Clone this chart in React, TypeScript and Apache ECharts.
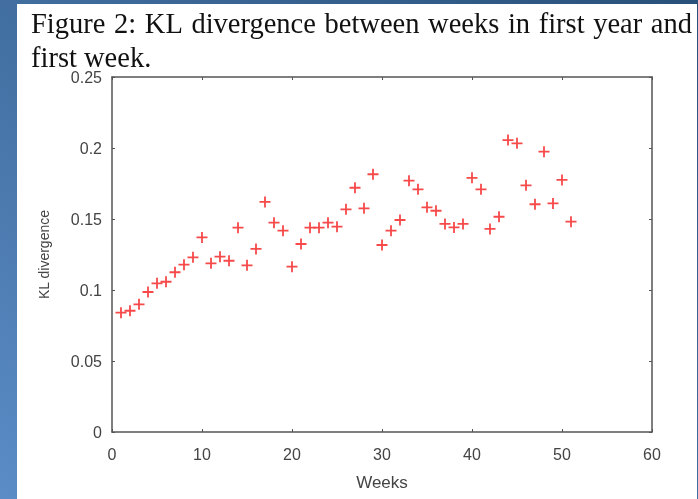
import React, { useEffect, useRef } from "react";
import * as echarts from "echarts";

const weeks = [1,2,3,4,5,6,7,8,9,10,11,12,13,14,15,16,17,18,19,20,21,22,23,24,25,26,27,28,29,30,31,32,33,34,35,36,37,38,39,40,41,42,43,44,45,46,47,48,49,50,51];
const klValues = [0.084,0.0854,0.0899,0.0986,0.1047,0.1058,0.1125,0.1178,0.123,0.137,0.1188,0.1235,0.1206,0.1439,0.1174,0.1289,0.162,0.1474,0.1418,0.1164,0.1324,0.1439,0.1439,0.1474,0.1446,0.1568,0.172,0.1575,0.1815,0.1317,0.1418,0.1493,0.177,0.1709,0.1582,0.1558,0.1465,0.1441,0.1465,0.179,0.1709,0.143,0.1516,0.2056,0.2033,0.1737,0.1604,0.1974,0.161,0.1775,0.1481];
const xTicks = [0, 10, 20, 30, 40, 50, 60];
const yTicks = [0, 0.05, 0.1, 0.15, 0.2, 0.25];
const titleLines = ["Figure 2: KL divergence between weeks in first year and", "first week."];
const xName = "Weeks";
const yName = "KL divergence";

const PLUS = "path://M4.6,0H6.4V4.6H11V6.4H6.4V11H4.6V6.4H0V4.6H4.6Z";
const TITLE_FONT = '28.5px "Liberation Serif"';

function justifiedWords(line: string, left: number, right: number, y: number) {
  const words = line.split(" ");
  const ctx = document.createElement("canvas").getContext("2d");
  let widths = words.map((w) => w.length * 12);
  if (ctx) {
    ctx.font = TITLE_FONT;
    widths = words.map((w) => ctx.measureText(w).width);
  }
  const total = widths.reduce((a, b) => a + b, 0);
  const gap = words.length > 1 ? (right - left - total) / (words.length - 1) : 0;
  let x = left;
  return words.map((w, i) => {
    const el = { type: "text", x, y, silent: true, style: { text: w, font: TITLE_FONT, fill: "#111" } };
    x += widths[i] + gap;
    return el;
  });
}

export default function App() {
  const ref = useRef<HTMLDivElement>(null);
  useEffect(() => {
    if (!ref.current) return;
    const chart = echarts.init(ref.current, null, { renderer: "svg" });
    const axisColor = "#555";
    const labelStyle = { color: "#444", fontSize: 16, fontFamily: "Liberation Sans" };
    const boxAxis = {
      axisLine: { show: true, onZero: false, lineStyle: { color: axisColor, width: 1.5 } },
      axisTick: { show: true, inside: true, length: 3, lineStyle: { color: axisColor } },
      splitLine: { show: false },
    };
    chart.setOption({
      animation: false,
      backgroundColor: "transparent",
      graphic: [
        {
          type: "rect",
          z: -10,
          silent: true,
          shape: { x: 0, y: 0, width: 698, height: 499 },
          style: {
            fill: new echarts.graphic.LinearGradient(0, 1, 1, 0, [
              { offset: 0, color: "#5b8cc6" },
              { offset: 1, color: "#28507a" },
            ]),
          },
        },
        {
          type: "rect",
          z: -9,
          silent: true,
          shape: { x: 17, y: 4, width: 680, height: 495 },
          style: { fill: "#ffffff" },
        },
        ...justifiedWords(titleLines[0], 31, 692, 9),
        {
          type: "text",
          x: 31,
          y: 46,
          silent: true,
          style: { text: titleLines[1], font: TITLE_FONT, lineHeight: 22, fill: "#111" },
        },
      ],
      grid: { left: 112, top: 77, width: 540, height: 355, show: false },
      xAxis: [
        {
          type: "value",
          min: 0,
          max: 60,
          interval: 10,
          position: "bottom",
          name: xName,
          nameLocation: "middle",
          nameGap: 42,
          nameTextStyle: { color: "#444", fontSize: 17, fontFamily: "Liberation Sans" },
          ...boxAxis,
          axisLabel: { ...labelStyle, margin: 14, formatter: (v: number) => (xTicks.includes(v) ? String(v) : "") },
        },
        {
          type: "value",
          min: 0,
          max: 60,
          interval: 10,
          position: "top",
          ...boxAxis,
          axisLabel: { show: false },
        },
      ],
      yAxis: [
        {
          type: "value",
          min: 0,
          max: 0.25,
          interval: 0.05,
          position: "left",
          name: yName,
          nameLocation: "middle",
          nameRotate: 90,
          nameGap: 61,
          nameTextStyle: { color: "#444", fontSize: 14, fontFamily: "Liberation Sans" },
          ...boxAxis,
          axisLabel: {
            ...labelStyle,
            margin: 10,
            formatter: (v: number) => {
              const t = yTicks.find((y) => Math.abs(y - v) < 1e-9);
              return t === undefined ? "" : String(t);
            },
          },
        },
        {
          type: "value",
          min: 0,
          max: 0.25,
          interval: 0.05,
          position: "right",
          ...boxAxis,
          axisLabel: { show: false },
        },
      ],
      series: [
        {
          type: "scatter",
          xAxisIndex: 0,
          yAxisIndex: 0,
          symbol: PLUS,
          symbolSize: 11,
          itemStyle: { color: "#f53535", opacity: 0.9 },
          data: weeks.map((w, i) => [w, klValues[i]]),
        },
      ],
    });
    return () => chart.dispose();
  }, []);
  return <div ref={ref} style={{ position: "fixed", left: 0, top: 0, width: 698, height: 499 }} />;
}
